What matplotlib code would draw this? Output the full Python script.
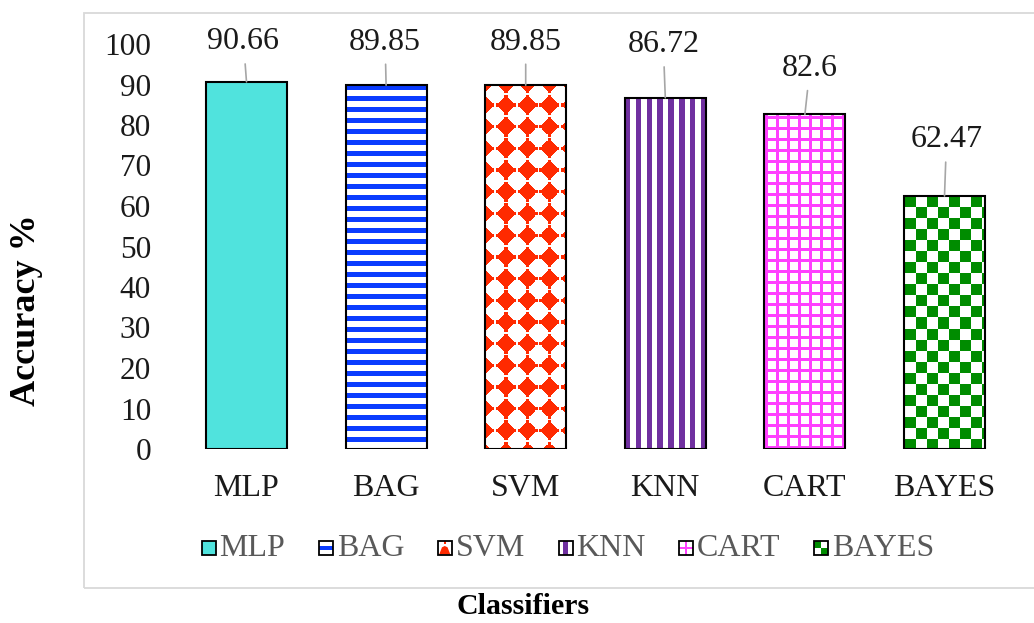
import numpy as np
import matplotlib
matplotlib.use("Agg")
import matplotlib.pyplot as plt
from matplotlib.patches import Rectangle, Polygon
from matplotlib.legend_handler import HandlerBase

# ---- data -------------------------------------------------------------
classifiers = ["MLP", "BAG", "SVM", "KNN", "CART", "BAYES"]
accuracy = [90.66, 89.85, 89.85, 86.72, 82.6, 62.47]
y_ticks = list(range(0, 101, 10))

# ---- styling ----------------------------------------------------------
fills = ["solid", "hstripe", "diamond", "vstripe", "grid", "checker"]
colors = ["#50E3DD", "#0A3CFF", "#FF2A00", "#7030A0", "#FF40FF", "#008C00"]
label_lift = [40, 43, 43, 53, 46, 56]      # pixels above the bar top
label_shift = [-3, -1, 0, -2, 5, 2]        # horizontal nudge in pixels

plt.rcParams["font.family"] = ["Liberation Serif", "DejaVu Serif"]

W, H, DPI = 1034, 623, 100
fig = plt.figure(figsize=(W / DPI, H / DPI), dpi=DPI)


def px_rect(left, top, right, bottom):
    return [left / W, 1 - bottom / H, (right - left) / W, (bottom - top) / H]


# outer chart frame
fig.patches.append(Rectangle((84 / W, 1 - 588 / H), (1060 - 84) / W, (588 - 13) / H,
                             transform=fig.transFigure, fill=False,
                             edgecolor="#D9D9D9", linewidth=1.3))

ax = fig.add_axes(px_rect(176.7, 44, 1014.3, 449))
x = np.arange(len(classifiers))
ax.set_xlim(-0.5, len(classifiers) - 0.5)
ax.set_ylim(0, 100)
ax.set_autoscale_on(False)
for s in ax.spines.values():
    s.set_visible(False)


def rgb(c):
    return np.array(matplotlib.colors.to_rgb(c))


def texture(kind, color, w, h):
    yy, xx = np.mgrid[0:h, 0:w] + 0.5
    if kind == "hstripe":
        mask = (yy % 11) < 5
    elif kind == "vstripe":
        mask = (xx % 10.8) < 5.5
    elif kind == "grid":
        mask = ((xx - 1.5) % 11 < 2.2) | ((yy - 2.5) % 11 < 2.2)
    elif kind == "checker":
        mask = ((np.floor((xx - 1) / 11) + np.floor((yy - 1) / 11)) % 2) == 0
    elif kind == "diamond":
        p = 21.7
        dx = np.abs(((xx + 0.7 + p / 2) % p) - p / 2)
        dy = np.abs(((yy + 1.7 + p / 2) % p) - p / 2)
        body = (dx + dy <= 9.8) & (np.maximum(dx, dy) <= 7.6)
        nub = (np.minimum(dx, dy) <= 1.6) & (np.maximum(dx, dy) <= 10.0)
        mask = body | nub
    else:
        mask = np.ones((h, w), bool)
    img = np.ones((h, w, 3))
    img[mask] = rgb(color)
    return img


bars = ax.bar(x, accuracy, width=0.58, color="none", edgecolor="black",
              linewidth=1.5, zorder=3)
for bar, kind, col in zip(bars, fills, colors):
    if kind == "solid":
        bar.set_facecolor(col)
        continue
    x0, x1 = bar.get_x(), bar.get_x() + bar.get_width()
    y0, y1 = 0, bar.get_height()
    (px0, py0), (px1, py1) = ax.transData.transform([(x0, y0), (x1, y1)])
    w, h = int(round(px1 - px0)), int(round(py1 - py0))
    im = ax.imshow(texture(kind, col, w, h), extent=(x0, x1, y0, y1),
                   origin="upper", aspect="auto", interpolation="nearest",
                   zorder=2)
    im.set_clip_path(bar)
ax.set_xlim(-0.5, len(classifiers) - 0.5)
ax.set_ylim(0, 100)

# value labels with leader lines
for i, v in enumerate(accuracy):
    ax.annotate(f"{v:g}", xy=(i, v), xytext=(label_shift[i], label_lift[i]),
                textcoords="offset pixels", ha="center", va="center",
                fontsize=23, color="#1A1A1A",
                arrowprops=dict(arrowstyle="-", color="#A6A6A6", lw=1.2,
                                shrinkA=3.5, shrinkB=0))

ax.set_yticks(y_ticks)
ax.set_xticks(x, classifiers)
ax.tick_params(axis="y", length=0, pad=18.5, labelsize=22.5, labelcolor="#1A1A1A")
ax.tick_params(axis="x", length=0, pad=18, labelsize=23, labelcolor="#1A1A1A")

fig.text(523 / W, 1 - 606 / H, "Classifiers", ha="center", va="center",
         fontsize=21.5, fontweight="bold")
fig.text(27 / W, 1 - 310 / H, "Accuracy %", ha="center", va="center",
         rotation=90, fontsize=26, fontweight="bold")


# ---- legend swatches ---------------------------------------------------
class SwatchHandler(HandlerBase):
    def create_artists(self, legend, orig_handle, xdescent, ydescent,
                       width, height, fontsize, trans):
        kind = orig_handle.get_gid()
        col = orig_handle.get_facecolor()
        bw, bh = 10.1, 9.5
        x0, y0 = -xdescent, -ydescent + 0.8
        arts = []
        base = "white" if kind != "solid" else col
        arts.append(Rectangle((x0, y0), bw, bh, facecolor=base, edgecolor="none",
                              transform=trans))
        if kind == "hstripe":
            arts.append(Rectangle((x0, y0 + bh * 0.33), bw, bh * 0.34,
                                  facecolor=col, edgecolor="none", transform=trans))
        elif kind == "vstripe":
            arts.append(Rectangle((x0 + bw * 0.33, y0), bw * 0.34, bh,
                                  facecolor=col, edgecolor="none", transform=trans))
        elif kind == "grid":
            arts.append(Rectangle((x0 + bw * 0.42, y0), bw * 0.16, bh,
                                  facecolor=col, edgecolor="none", transform=trans))
            arts.append(Rectangle((x0, y0 + bh * 0.42), bw, bh * 0.16,
                                  facecolor=col, edgecolor="none", transform=trans))
        elif kind == "checker":
            arts.append(Rectangle((x0, y0 + bh / 2), bw / 2, bh / 2,
                                  facecolor=col, edgecolor="none", transform=trans))
            arts.append(Rectangle((x0 + bw / 2, y0), bw / 2, bh / 2,
                                  facecolor=col, edgecolor="none", transform=trans))
        elif kind == "diamond":
            cx = x0 + bw / 2
            arts.append(Polygon([(x0 + 1, y0), (cx - 2, y0 + bh * 0.55),
                                 (cx, y0 + bh * 0.65), (cx + 2, y0 + bh * 0.55),
                                 (x0 + bw - 1, y0)], closed=True,
                                facecolor=col, edgecolor="none", transform=trans))
            arts.append(Rectangle((cx - 0.8, y0 + bh * 0.8), 1.6, bh * 0.2,
                                  facecolor=col, edgecolor="none", transform=trans))
        arts.append(Rectangle((x0, y0), bw, bh, facecolor="none",
                              edgecolor="black", linewidth=1.3, transform=trans))
        return arts


proxies = [Rectangle((0, 0), 1, 1, facecolor=c, gid=k, label=n)
           for c, k, n in zip(colors, fills, classifiers)]
leg = fig.legend(handles=proxies, loc="center", bbox_to_anchor=(568 / W, 1 - 548 / H),
                 ncol=len(classifiers), frameon=False, fontsize=23,
                 handler_map={Rectangle: SwatchHandler()},
                 handlelength=10.1 / 23, handletextpad=0.12, columnspacing=1.05,
                 borderpad=0, borderaxespad=0)
for t in leg.get_texts():
    t.set_color("#595959")

fig.savefig("out.png", dpi=DPI)
